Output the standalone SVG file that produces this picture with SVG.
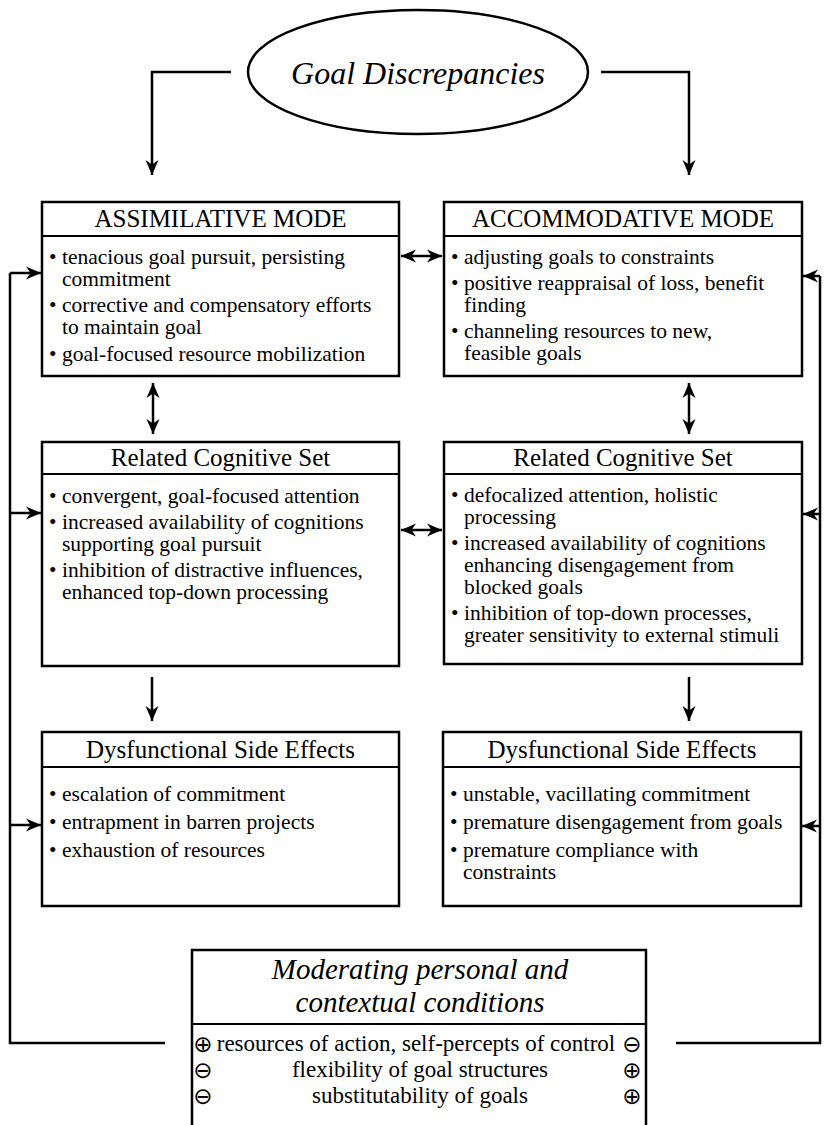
<svg xmlns="http://www.w3.org/2000/svg" width="830" height="1125" viewBox="0 0 830 1125">
<defs>
<marker id="ah" markerUnits="userSpaceOnUse" markerWidth="16" markerHeight="14" refX="15" refY="7" orient="auto-start-reverse">
<path d="M0,0.5 L15,7 L0,13.5 L4.5,7 Z" fill="#000"/>
</marker>
<style>
.box{fill:#fff;stroke:#000;stroke-width:2.5}
.sep{stroke:#000;stroke-width:2.2}
.ln{fill:none;stroke:#000;stroke-width:2.5}
.arr{fill:none;stroke:#000;stroke-width:2.5;marker-end:url(#ah)}
.dbl{fill:none;stroke:#000;stroke-width:2.5;marker-start:url(#ah);marker-end:url(#ah)}
.hd{font-family:"Liberation Serif","Times New Roman",serif;font-size:25px;text-anchor:middle;fill:#000}
.tx{font-family:"Liberation Serif","Times New Roman",serif;font-size:21.5px;fill:#000}
.it{font-family:"Liberation Serif","Times New Roman",serif;font-style:italic;text-anchor:middle;fill:#000}
.sym{font-family:"DejaVu Sans",sans-serif;font-size:23px;text-anchor:middle;fill:#000}
.md{font-family:"Liberation Serif","Times New Roman",serif;font-size:23px;text-anchor:middle;fill:#000}
</style>
</defs>
<rect width="830" height="1125" fill="#fff"/>

<g id="goal">
<ellipse cx="418" cy="72" rx="170" ry="62" fill="#fff" stroke="#000" stroke-width="2.5"/>
<text class="it" x="418" y="84" font-size="32">Goal Discrepancies</text>
</g>

<g id="assimilative">
<rect class="box" x="42" y="202" width="357" height="174"/>
<line class="sep" x1="42" y1="236" x2="399" y2="236"/>
<text class="hd" x="220.5" y="227">ASSIMILATIVE MODE</text>
<text class="tx" y="264"><tspan x="49">•</tspan><tspan x="62">tenacious goal pursuit, persisting</tspan><tspan x="62" dy="22">commitment</tspan></text>
<text class="tx" y="312"><tspan x="49">•</tspan><tspan x="62">corrective and compensatory efforts</tspan><tspan x="62" dy="22">to maintain goal</tspan></text>
<text class="tx" y="361"><tspan x="49">•</tspan><tspan x="62">goal-focused resource mobilization</tspan></text>
</g>

<g id="accommodative">
<rect class="box" x="444" y="202" width="358" height="174"/>
<line class="sep" x1="444" y1="236" x2="802" y2="236"/>
<text class="hd" x="623" y="227">ACCOMMODATIVE MODE</text>
<text class="tx" y="264"><tspan x="451">•</tspan><tspan x="464">adjusting goals to constraints</tspan></text>
<text class="tx" y="290"><tspan x="451">•</tspan><tspan x="464">positive reappraisal of loss, benefit</tspan><tspan x="464" dy="22">finding</tspan></text>
<text class="tx" y="338"><tspan x="451">•</tspan><tspan x="464">channeling resources to new,</tspan><tspan x="464" dy="22">feasible goals</tspan></text>
</g>

<g id="cogset-left">
<rect class="box" x="42" y="442" width="357" height="224"/>
<line class="sep" x1="42" y1="474" x2="399" y2="474"/>
<text class="hd" x="220.5" y="466">Related Cognitive Set</text>
<text class="tx" y="503"><tspan x="49">•</tspan><tspan x="62">convergent, goal-focused attention</tspan></text>
<text class="tx" y="529"><tspan x="49">•</tspan><tspan x="62">increased availability of cognitions</tspan><tspan x="62" dy="22">supporting goal pursuit</tspan></text>
<text class="tx" y="577"><tspan x="49">•</tspan><tspan x="62">inhibition of distractive influences,</tspan><tspan x="62" dy="22">enhanced top-down processing</tspan></text>
</g>

<g id="cogset-right">
<rect class="box" x="444" y="442" width="358" height="222"/>
<line class="sep" x1="444" y1="474" x2="802" y2="474"/>
<text class="hd" x="623" y="466">Related Cognitive Set</text>
<text class="tx" y="502"><tspan x="451">•</tspan><tspan x="464">defocalized attention, holistic</tspan><tspan x="464" dy="22">processing</tspan></text>
<text class="tx" y="550"><tspan x="451">•</tspan><tspan x="464">increased availability of cognitions</tspan><tspan x="464" dy="22">enhancing disengagement from</tspan><tspan x="464" dy="22">blocked goals</tspan></text>
<text class="tx" y="620"><tspan x="451">•</tspan><tspan x="464">inhibition of top-down processes,</tspan><tspan x="464" dy="22">greater sensitivity to external stimuli</tspan></text>
</g>

<g id="side-left">
<rect class="box" x="42" y="732" width="357" height="174"/>
<line class="sep" x1="42" y1="767" x2="399" y2="767"/>
<text class="hd" x="220.5" y="758">Dysfunctional Side Effects</text>
<text class="tx" y="801"><tspan x="49">•</tspan><tspan x="62">escalation of commitment</tspan></text>
<text class="tx" y="829"><tspan x="49">•</tspan><tspan x="62">entrapment in barren projects</tspan></text>
<text class="tx" y="857"><tspan x="49">•</tspan><tspan x="62">exhaustion of resources</tspan></text>
</g>

<g id="side-right">
<rect class="box" x="443" y="732" width="358" height="174"/>
<line class="sep" x1="443" y1="767" x2="801" y2="767"/>
<text class="hd" x="622" y="758">Dysfunctional Side Effects</text>
<text class="tx" y="801"><tspan x="450">•</tspan><tspan x="463">unstable, vacillating commitment</tspan></text>
<text class="tx" y="829"><tspan x="450">•</tspan><tspan x="463">premature disengagement from goals</tspan></text>
<text class="tx" y="857"><tspan x="450">•</tspan><tspan x="463">premature compliance with</tspan><tspan x="463" dy="22">constraints</tspan></text>
</g>

<g id="moderating">
<path class="ln" d="M192,1126 V950 H646 V1126" fill="#fff"/>
<line class="sep" x1="192" y1="1024" x2="646" y2="1024"/>
<text class="it" x="420" y="979" font-size="29">Moderating personal and</text>
<text class="it" x="420" y="1012" font-size="29">contextual conditions</text>
<text class="sym" x="203" y="1052">⊕</text><text class="md" x="416" y="1051">resources of action, self-percepts of control</text><text class="sym" x="632" y="1052">⊖</text>
<text class="sym" x="203" y="1078">⊖</text><text class="md" x="420" y="1077">flexibility of goal structures</text><text class="sym" x="632" y="1078">⊕</text>
<text class="sym" x="203" y="1104">⊖</text><text class="md" x="420" y="1103">substitutability of goals</text><text class="sym" x="632" y="1104">⊕</text>
</g>

<g id="connectors">
<path class="arr" d="M231,72 H152 V175"/>
<path class="arr" d="M601,72 H689 V175"/>
<path class="dbl" d="M401,256 H442"/>
<path class="dbl" d="M401,530 H442"/>
<path class="dbl" d="M153,383 V434"/>
<path class="dbl" d="M689,383 V434"/>
<path class="arr" d="M152,677 V721"/>
<path class="arr" d="M689,677 V721"/>
<path class="ln" d="M165,1043 H10 V273"/>
<path class="arr" d="M10,273 H41"/>
<path class="arr" d="M10,513 H41"/>
<path class="arr" d="M10,825 H41"/>
<path class="ln" d="M676,1043 H820 V276"/>
<path class="arr" d="M820,276 H803"/>
<path class="arr" d="M820,514 H803"/>
<path class="arr" d="M820,826 H802"/>
</g>
</svg>
